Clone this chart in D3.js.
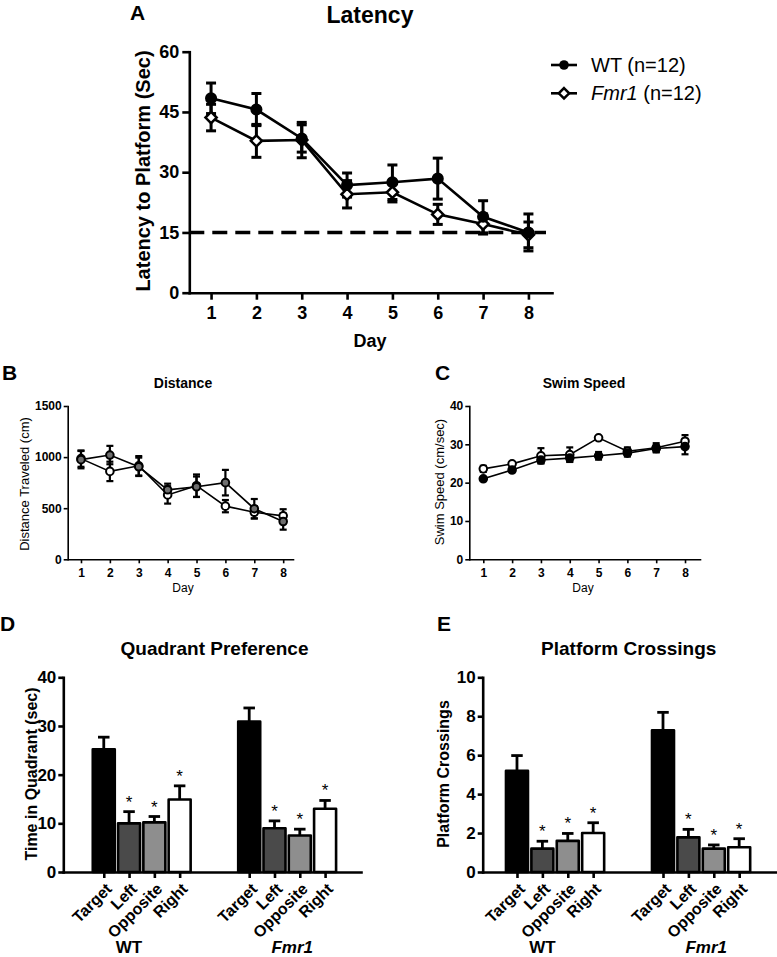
<!DOCTYPE html>
<html><head><meta charset="utf-8">
<script src="https://cdn.jsdelivr.net/npm/d3@7"></script>
<style>body{margin:0;background:#fff}svg{display:block}</style>
</head><body><svg id="c" width="777" height="957"></svg>
<script>
// ---------- DATA ----------
const days = [1,2,3,4,5,6,7,8];
const latencyTicks = [0,15,30,45,60];
const latencyWT = [48.4,45.6,38.4,26.8,27.5,28.4,18.9,15.0];
const latencyWTErr = [3.8,4.0,3.4,3.0,4.3,5.1,4.0,4.6];
const latencyFmr1 = [43.6,37.8,38.0,24.5,25.0,19.5,17.1,14.4];
const latencyFmr1Err = [3.3,4.1,4.4,3.4,2.4,2.5,2.5,3.2];
const criterion = 15;

const distanceTicks = [0,500,1000,1500];
const distanceWT = [975,1020,905,680,710,750,495,370];
const distanceWTErr = [85,90,90,60,100,125,95,80];
const distanceFmr1 = [985,860,915,630,720,520,460,425];
const distanceFmr1Err = [80,95,95,85,110,60,60,65];

const speedTicks = [0,10,20,30,40];
const speedWT = [21.0,23.3,25.9,26.4,27.0,27.7,28.9,29.4];
const speedWTErr = [0.4,0.5,0.8,0.9,1.0,0.9,0.9,2.0];
const speedFmr1 = [23.6,24.9,27.0,27.3,31.7,28.2,29.1,30.8];
const speedFmr1Err = [0.8,0.4,2.0,1.9,0.4,1.0,1.2,1.6];

const quadrants = ["Target","Left","Opposite","Right"];
const genotypes = ["WT","Fmr1"];
const quadTicks = [0,10,20,30,40];
const quadTimeWT = [25.2,10.0,10.2,14.9];
const quadTimeWTErr = [2.5,2.4,1.2,2.8];
const quadTimeFmr1 = [30.9,9.0,7.5,13.0];
const quadTimeFmr1Err = [2.8,1.5,1.3,1.7];
const quadSigWT = [false,true,true,true];
const quadSigFmr1 = [false,true,true,true];

const crossTicks = [0,2,4,6,8,10];
const crossWT = [5.2,1.2,1.6,2.0];
const crossWTErr = [0.78,0.38,0.38,0.53];
const crossFmr1 = [7.28,1.78,1.2,1.27];
const crossFmr1Err = [0.92,0.41,0.19,0.44];
const crossSigWT = [false,true,true,true];
const crossSigFmr1 = [false,true,true,true];

const quadFills = ["#000000","#4a4a4a","#8e8e8e","#ffffff"];

// ---------- DRAW ----------
const FONT = '"Liberation Sans", Arial, Helvetica, sans-serif';
const svg = d3.select("#c").attr("font-family", FONT);

function styleAxis(g, w, fs, weight) {
  g.attr("font-family", FONT);
  g.select(".domain").attr("stroke","#000").attr("stroke-width",w).attr("stroke-linecap","square");
  g.selectAll(".tick line").attr("stroke","#000").attr("stroke-width",w);
  g.selectAll(".tick text").attr("fill","#000").attr("font-size",fs).attr("font-weight",weight);
}
function txt(x, y, s, fs, opts = {}) {
  const t = svg.append("text").attr("x",x).attr("y",y).attr("font-size",fs)
    .attr("font-weight", opts.weight || "bold").attr("text-anchor", opts.anchor || "start")
    .attr("fill","#000");
  if (opts.italic) t.attr("font-style","italic");
  if (opts.rotate) t.attr("transform",`rotate(${opts.rotate},${x},${y})`);
  t.text(s);
  return t;
}
function diamondPath(w){ return `M0,${-w}L${w},0L0,${w}L${-w},0Z`; }

function linePanel(o) {
  const x = d3.scaleLinear().domain(o.xDomain).range(o.xRange);
  const y = d3.scaleLinear().domain(o.yDomain).range(o.yRange);
  const g = svg.append("g");
  o.series.forEach(s => {
    s.values.forEach((v,i) => {
      const e = s.errs[i], cx = x(days[i]);
      g.append("line").attr("x1",cx).attr("x2",cx).attr("y1",y(v-e)).attr("y2",y(v+e))
        .attr("stroke","#000").attr("stroke-width",o.errW);
      [v-e, v+e].forEach(b => g.append("line").attr("x1",cx-o.capW/2).attr("x2",cx+o.capW/2)
        .attr("y1",y(b)).attr("y2",y(b)).attr("stroke","#000").attr("stroke-width",o.errW));
    });
  });
  if (o.refLine !== undefined) {
    g.append("line").attr("x1",o.xRange[0]).attr("x2",o.xRange[1]-6)
      .attr("y1",y(o.refLine)).attr("y2",y(o.refLine))
      .attr("stroke","#000").attr("stroke-width",3.5).attr("stroke-dasharray","15,8");
  }
  const line = d3.line().x((d,i)=>x(days[i])).y(d=>y(d));
  o.series.forEach(s => {
    g.append("path").datum(s.values).attr("d",line).attr("fill","none")
      .attr("stroke","#000").attr("stroke-width",o.lineW);
  });
  o.series.forEach(s => {
    s.values.forEach((v,i) => {
      if (s.shape === "diamond") {
        g.append("path").attr("d",diamondPath(o.r+0.8)).attr("transform",`translate(${x(days[i])},${y(v)})`)
          .attr("fill",s.fill).attr("stroke","#000").attr("stroke-width",o.mStroke);
      } else {
        g.append("circle").attr("cx",x(days[i])).attr("cy",y(v)).attr("r",o.r)
          .attr("fill",s.fill).attr("stroke","#000").attr("stroke-width",o.mStroke);
      }
    });
  });
  const ya = g.append("g").attr("transform",`translate(${o.xRange[0]},0)`)
    .call(d3.axisLeft(y).tickValues(o.yTicks).tickFormat(d3.format("d")).tickSize(o.tick).tickPadding(o.ypad).tickSizeOuter(0));
  styleAxis(ya, o.axisW, o.fs, "bold");
  const xa = g.append("g").attr("transform",`translate(0,${o.yRange[0]})`)
    .call(d3.axisBottom(x).tickValues(days).tickFormat(d3.format("d")).tickSize(o.tick).tickPadding(o.xpad).tickSizeOuter(0));
  styleAxis(xa, o.axisW, o.fs, "bold");
}

// Panel A
linePanel({
  xDomain:[0.52,8.52], xRange:[189.3,552], yDomain:[0,60], yRange:[292.7,51.7], yTicks:latencyTicks,
  series:[
    {values:latencyFmr1, errs:latencyFmr1Err, shape:"diamond", fill:"#fff"},
    {values:latencyWT, errs:latencyWTErr, shape:"circle", fill:"#000"}
  ],
  refLine: criterion,
  lineW:2.6, errW:3, capW:10, r:4.8, mStroke:2.5, axisW:2.6, tick:7, ypad:3, xpad:7, fs:18
});
txt(130, 20, "A", 21);
txt(370, 23, "Latency", 23, {anchor:"middle"});
txt(150, 171, "Latency to Platform (Sec)", 20, {anchor:"middle", rotate:-90});
txt(370, 347, "Day", 18, {anchor:"middle"});
const legendItems = [{label:"WT", shape:"circle", fill:"#000", y:65},{label:"Fmr1", shape:"diamond", fill:"#fff", y:93.3}];
legendItems.forEach(d => {
  svg.append("line").attr("x1",551).attr("x2",577).attr("y1",d.y).attr("y2",d.y).attr("stroke","#000").attr("stroke-width",2.6);
  if (d.shape === "circle") svg.append("circle").attr("cx",564).attr("cy",d.y).attr("r",4.8).attr("fill","#000");
  else svg.append("path").attr("d",diamondPath(5.2)).attr("transform",`translate(564,${d.y})`).attr("fill","#fff").attr("stroke","#000").attr("stroke-width",2.5);
  const t = svg.append("text").attr("x",591).attr("y",d.y+7).attr("font-size",20).attr("fill","#000");
  t.append("tspan").attr("font-style", d.label==="Fmr1" ? "italic" : "normal").text(d.label);
  t.append("tspan").text(" (n=12)");
});

// Panel B
linePanel({
  xDomain:[0.54,8.34], xRange:[67.7,293], yDomain:[0,1500], yRange:[559.3,406], yTicks:distanceTicks,
  series:[
    {values:distanceFmr1, errs:distanceFmr1Err, shape:"circle", fill:"#fff"},
    {values:distanceWT, errs:distanceWTErr, shape:"circle", fill:"#6e6e6e"}
  ],
  lineW:1.6, errW:2.2, capW:7, r:3.8, mStroke:2, axisW:1.6, tick:4, ypad:2, xpad:5, fs:12
});
txt(2, 380, "B", 21);
txt(183, 388, "Distance", 14, {anchor:"middle"});
txt(29, 484, "Distance Traveled (cm)", 13, {anchor:"middle", rotate:-90, weight:"normal"});
txt(183, 592, "Day", 12, {anchor:"middle", weight:"normal"});

// Panel C
linePanel({
  xDomain:[0.514,8.52], xRange:[469.3,700], yDomain:[0,40], yRange:[559.3,406], yTicks:speedTicks,
  series:[
    {values:speedFmr1, errs:speedFmr1Err, shape:"circle", fill:"#fff"},
    {values:speedWT, errs:speedWTErr, shape:"circle", fill:"#000"}
  ],
  lineW:1.6, errW:2.2, capW:7, r:3.8, mStroke:2, axisW:1.6, tick:4, ypad:2, xpad:5, fs:12
});
txt(435, 380, "C", 21);
txt(584, 388, "Swim Speed", 14, {anchor:"middle"});
txt(444, 482, "Swim Speed (cm/sec)", 13, {anchor:"middle", rotate:-90, weight:"normal"});
txt(583, 592, "Day", 12, {anchor:"middle", weight:"normal"});

// Bar panels
function barPanel(o) {
  const x = d3.scaleLinear().domain(o.slotDomain).range(o.xRange);
  const y = d3.scaleLinear().domain(o.yDomain).range(o.yRange);
  const g = svg.append("g");
  const groups = [
    {name:genotypes[0], vals:o.wt, errs:o.wtErr, sig:o.wtSig, offset:0, italic:false},
    {name:genotypes[1], vals:o.fmr, errs:o.fmrErr, sig:o.fmrSig, offset:5.75, italic:true}
  ];
  const bw = 22, capW = 11.5;
  const slots = [];
  groups.forEach(gr => {
    gr.vals.forEach((v,i) => {
      const s = gr.offset + i, cx = x(s), e = gr.errs[i];
      slots.push(s);
      g.append("line").attr("x1",cx).attr("x2",cx).attr("y1",y(v)).attr("y2",y(v+e)).attr("stroke","#000").attr("stroke-width",2.8);
      g.append("line").attr("x1",cx-capW/2).attr("x2",cx+capW/2).attr("y1",y(v+e)).attr("y2",y(v+e)).attr("stroke","#000").attr("stroke-width",2.8);
      g.append("rect").attr("x",cx-bw/2).attr("y",y(v)).attr("width",bw).attr("height",y(0)-y(v))
        .attr("fill",quadFills[i]).attr("stroke","#000").attr("stroke-width",2.6).attr("stroke-linejoin","round");
      if (gr.sig[i]) {
        g.append("text").attr("x",cx).attr("y",y(v+e)-4).attr("text-anchor","middle")
          .attr("font-size",17).attr("fill","#000").text("*");
      }
      g.append("text").attr("transform",`translate(${cx+5},${o.yRange[0]+14}) rotate(-45)`)
        .attr("text-anchor","end").attr("dy","0.35em").attr("font-size",16).attr("font-weight","bold")
        .attr("fill","#000").text(quadrants[i]);
    });
    const t = g.append("text").attr("x", x(gr.offset + (gr.italic ? 1.7 : 1))).attr("y",953)
      .attr("text-anchor","middle").attr("font-size",17).attr("font-weight","bold").attr("fill","#000").text(gr.name);
    if (gr.italic) t.attr("font-style","italic");
  });
  const ya = g.append("g").attr("transform",`translate(${o.xRange[0]},0)`)
    .call(d3.axisLeft(y).tickValues(o.yTicks).tickSize(5).tickPadding(2).tickSizeOuter(0));
  styleAxis(ya, 2.6, 17, "bold");
  const xa = g.append("g").attr("transform",`translate(0,${o.yRange[0]})`)
    .call(d3.axisBottom(x).tickValues(slots).tickFormat("").tickSize(6).tickSizeOuter(0));
  styleAxis(xa, 2.6, 17, "bold");
}

barPanel({
  slotDomain:[-1.6,10.17], xRange:[63.3,361], yDomain:[0,40], yRange:[872,677.3], yTicks:quadTicks,
  wt:quadTimeWT, wtErr:quadTimeWTErr, wtSig:quadSigWT,
  fmr:quadTimeFmr1, fmrErr:quadTimeFmr1Err, fmrSig:quadSigFmr1
});
txt(0, 631, "D", 21);
txt(214.5, 655, "Quadrant Preference", 19, {anchor:"middle"});
txt(37, 774, "Time in Quadrant (sec)", 16, {anchor:"middle", rotate:-90});

barPanel({
  slotDomain:[-1.35,10.2], xRange:[482.7,776], yDomain:[0,10], yRange:[872,677.3], yTicks:crossTicks,
  wt:crossWT, wtErr:crossWTErr, wtSig:crossSigWT,
  fmr:crossFmr1, fmrErr:crossFmr1Err, fmrSig:crossSigFmr1
});
txt(437, 631, "E", 21);
txt(628.7, 655, "Platform Crossings", 19, {anchor:"middle"});
txt(449, 774, "Platform Crossings", 16, {anchor:"middle", rotate:-90});
</script></body></html>
